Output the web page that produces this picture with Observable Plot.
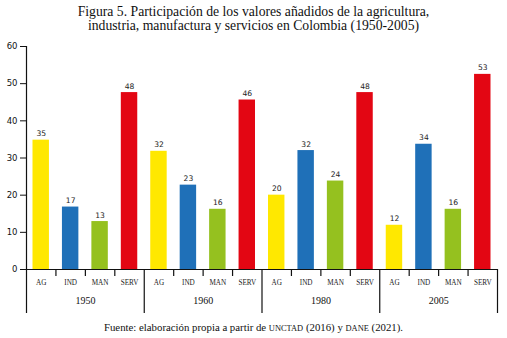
<!DOCTYPE html>
<html>
<head>
<meta charset="utf-8">
<script src="https://cdn.jsdelivr.net/npm/d3@7"></script>
<script src="https://cdn.jsdelivr.net/npm/@observablehq/plot@0.6"></script>
<style>
  html, body { margin: 0; padding: 0; background: #fff; }
  body { width: 507px; height: 338px; overflow: hidden; }
  #title { height: 36px; box-sizing: border-box; padding-top: 5px; text-align: center;
    font-family: "Liberation Serif", serif; font-size: 13.7px; line-height: 14px; color: #111; }
  #chart svg { display: block; }
  #caption { text-align: center; font-family: "Liberation Serif", serif; font-size: 10.8px;
    line-height: 12px; color: #111; margin-top: 3px; }
  .sc { font-size: 0.78em; }
</style>
</head>
<body>
<div id="title">Figura 5. Participación de los valores añadidos de la agricultura,<br>industria, manufactura y servicios en Colombia (1950-2005)</div>
<div id="chart"></div>
<div id="caption">Fuente: elaboración propia a partir de <span class="sc">UNCTAD</span> (2016) y <span class="sc">DANE</span> (2021).</div>
<script>
const years = ["1950", "1960", "1980", "2005"];
const categories = ["AG", "IND", "MAN", "SERV"];
const ag   = [34.8, 31.8, 20.0, 11.9];
const ind  = [16.8, 22.7, 32.0, 33.7];
const man  = [12.9, 16.2, 23.8, 16.2];
const serv = [47.6, 45.6, 47.6, 52.5];
const yTicks = [0, 10, 20, 30, 40, 50, 60];
const colors = ["#FFE800", "#1F70B8", "#95C11F", "#E30613"];

const series = [ag, ind, man, serv];
const data = [];
years.forEach((yr, g) => {
  categories.forEach((c, k) => {
    data.push({year: yr, cat: c, value: series[k][g], i: g * 4 + k});
  });
});
const n = data.length;
const groupEdges = d3.range(0, n + 1, categories.length);
const innerEdges = d3.range(1, n).filter(i => i % categories.length !== 0);
const yearCenters = years.map((yr, g) => ({year: yr, x: g * categories.length + categories.length / 2}));

const sans = "DejaVu Sans, Verdana, sans-serif";
const serif = "Liberation Serif, Times New Roman, serif";

const plot = Plot.plot({
  width: 507,
  height: 282,
  marginTop: 10,
  marginLeft: 26,
  marginRight: 10,
  marginBottom: 49,
  x: {domain: [0, n], axis: null},
  y: {domain: [0, 60], axis: null},
  color: {domain: categories, range: colors},
  marks: [
    Plot.rectY(data, {x1: "i", x2: d => d.i + 1, y: "value", fill: "cat", insetLeft: 6.5, insetRight: 6.5}),
    Plot.text(data, {x: d => d.i + 0.5, y: "value", text: d => String(Math.round(d.value)),
      lineAnchor: "bottom", dy: -4, fontSize: 7.6, fontFamily: sans, fill: "#222"}),
    Plot.axisY({ticks: yTicks, label: null, tickSize: 6, tickPadding: 3, fontSize: 8.5, fontFamily: sans, color: "#111"}),
    Plot.ruleX([0], {stroke: "#111", strokeWidth: 1.2}),
    Plot.ruleY([0], {stroke: "#111", strokeWidth: 1.2}),
    Plot.axisX({ticks: innerEdges, label: null, tickSize: 7, tickFormat: () => "", stroke: "#111", strokeWidth: 1.2}),
    Plot.axisX({ticks: groupEdges, label: null, tickSize: 44, tickFormat: () => "", stroke: "#111", strokeWidth: 1.2}),
    Plot.text(data, {x: d => d.i + 0.5, text: "cat", frameAnchor: "bottom", dy: 15,
      fontSize: 7.2, fontFamily: serif, fill: "#222"}),
    Plot.text(yearCenters, {x: "x", text: "year", frameAnchor: "bottom", dy: 34,
      fontSize: 10, fontFamily: serif, fill: "#111"})
  ]
});
document.getElementById("chart").appendChild(plot);
</script>
</body>
</html>
